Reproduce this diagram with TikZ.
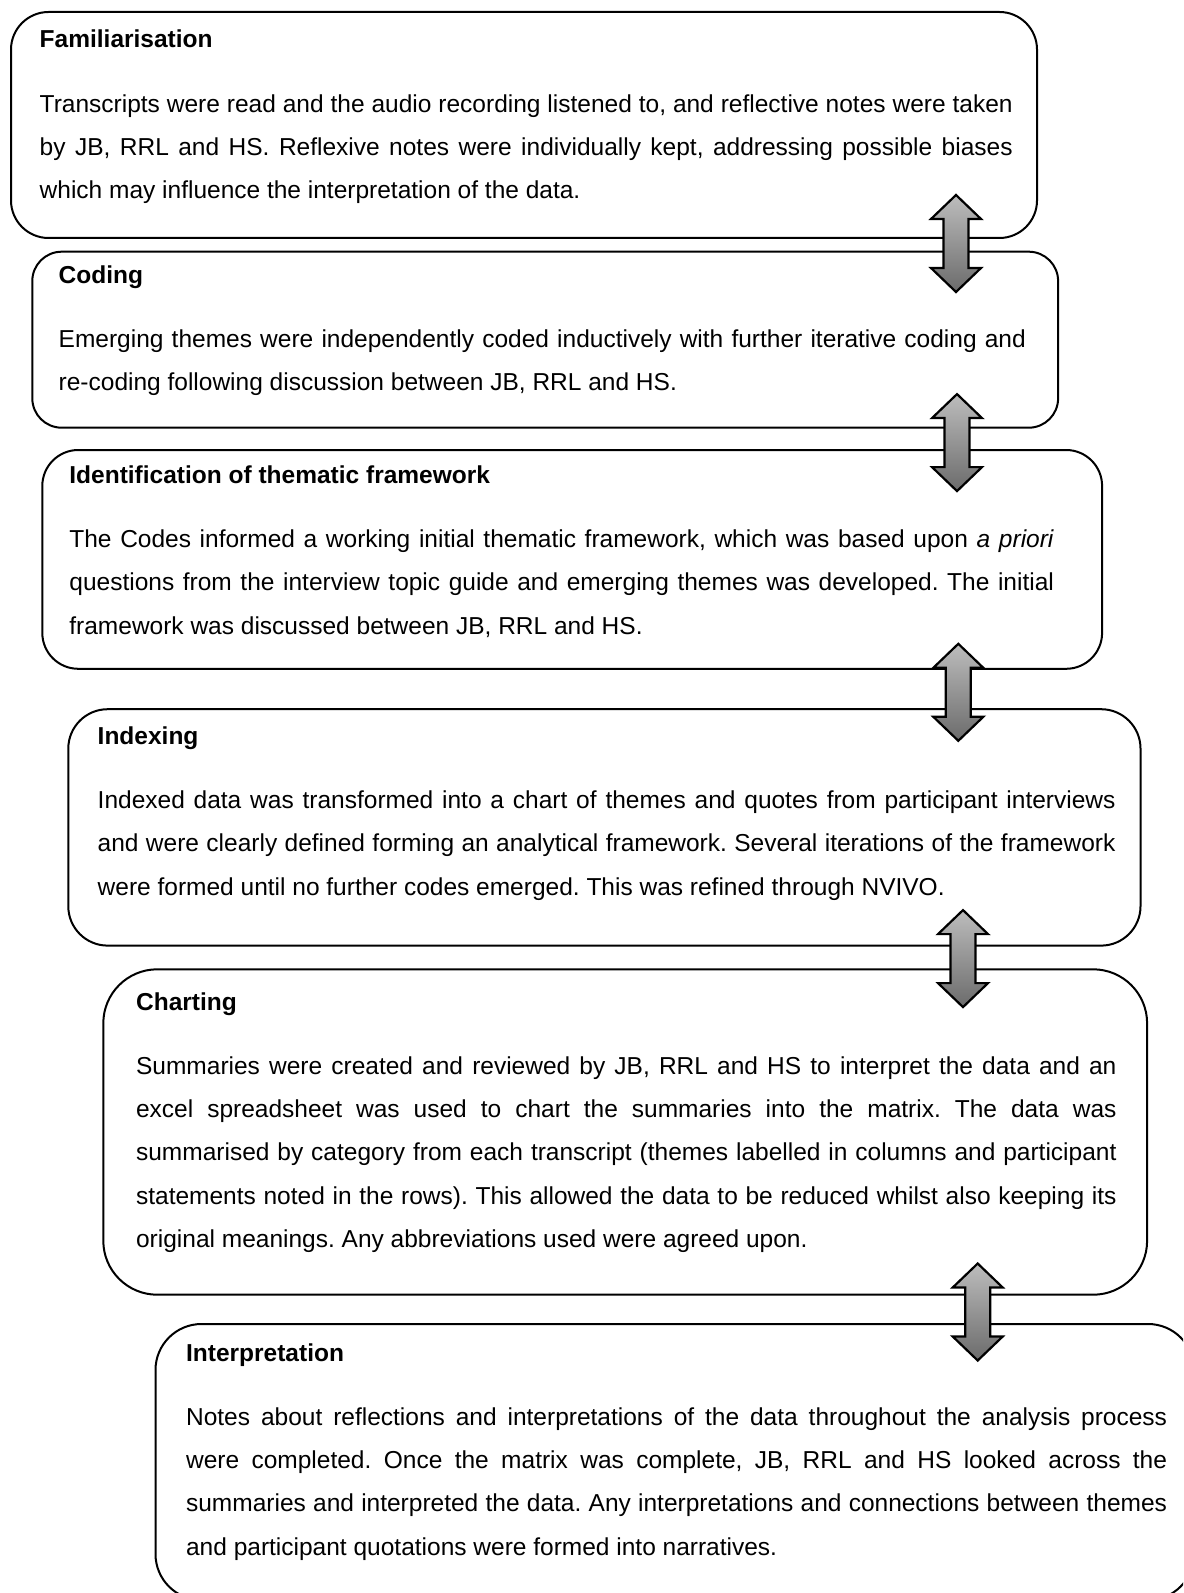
\documentclass[tikz,border=0pt]{standalone}
\usepackage{fontspec}
\setmainfont{Liberation Sans}
\usetikzlibrary{positioning}

\newcommand{\stagefont}{\fontsize{12.25}{21.6}\selectfont}
\frenchspacing

\tikzset{
    stage/.style={rectangle, draw, line width=1pt, anchor=north west, inner sep=0pt, outer sep=0pt},
    stagetitle/.style={anchor=base west, inner sep=0pt, font=\stagefont\bfseries},
    stagetext/.style={below=16.9pt of #1.base west, anchor=north west, inner sep=0pt, align=justify, font=\stagefont},
    updown/.pic={
        \draw[line width=1.1pt, top color=black!26, bottom color=black!58]
            (0,-48.5) -- (25,-24.5) -- (12.5,-24.5) -- (12.5,24.5) -- (25,24.5) -- (0,48.5)
            -- (-25,24.5) -- (-12.5,24.5) -- (-12.5,-24.5) -- (-25,-24.5) -- cycle;
    }
}

\begin{document}
\begin{tikzpicture}[x=0.5pt, y=-0.5pt]

        \useasboundingbox (0,0) rectangle (1183,1593);
        \clip (0,0) rectangle (1183,1593);

        % Boxes
        \node[stage, minimum width=513pt, minimum height=113pt, rounded corners=18.8pt](famBox) at (11,12){};
        \node[stage, minimum width=512.9pt, minimum height=88pt, rounded corners=14.7pt](codBox) at (32.3,251.7){};
        \node[stage, minimum width=529.9pt, minimum height=109.4pt, rounded corners=18pt](ideBox) at (42.3,450){};
        \node[stage, minimum width=536.1pt, minimum height=118.2pt, rounded corners=19.7pt](indBox) at (68.3,709.2){};
        \node[stage, minimum width=521.9pt, minimum height=162.7pt, rounded corners=27pt](chaBox) at (103.3,969.3){};
        \node[stage, minimum width=519.3pt, minimum height=138pt, rounded corners=23pt](intBox) at (155.5,1324){};

        % Titles
        \node[stagetitle](famTitle) at (39.3,47.7){Familiarisation};
        \node[stagetitle](codTitle) at (58.3,283.3){Coding};
        \node[stagetitle](ideTitle) at (69,483.3){Identification of thematic framework};
        \node[stagetitle](indTitle) at (97.3,744.3){Indexing};
        \node[stagetitle](chaTitle) at (135.7,1010){Charting};
        \node[stagetitle](intTitle) at (185.7,1361){Interpretation};

        % Texts
        \node[stagetext=famTitle, text width=486.5pt](famText){\strut Transcripts were read and the audio recording listened to, and reflective notes were taken\linebreak
            by JB, RRL and HS. Reflexive notes were individually kept, addressing possible biases\linebreak
            which may influence the interpretation of the data.};
        \node[stagetext=codTitle, text width=483.6pt](codText){\strut Emerging themes were independently coded inductively with further iterative coding and\linebreak
            re-coding following discussion between JB, RRL and HS.};
        \node[stagetext=ideTitle, text width=492.3pt](ideText){\strut The Codes informed a working initial thematic framework, which was based upon \textit{a priori}\linebreak
            questions from the interview topic guide and emerging themes was developed. The initial\linebreak
            framework was discussed between JB, RRL and HS.};
        \node[stagetext=indTitle, text width=508.9pt](indText){\strut Indexed data was transformed into a chart of themes and quotes from participant interviews\linebreak
            and were clearly defined forming an analytical framework. Several iterations of the framework\linebreak
            were formed until no further codes emerged. This was refined through NVIVO.};
        \node[stagetext=chaTitle, text width=490.2pt](chaText){\strut Summaries were created and reviewed by JB, RRL and HS to interpret the data and an\linebreak
            excel spreadsheet was used to chart the summaries into the matrix. The data was\linebreak
            summarised by category from each transcript (themes labelled in columns and participant\linebreak
            statements noted in the rows). This allowed the data to be reduced whilst also keeping its\linebreak
            original meanings. Any abbreviations used were agreed upon.};
        \node[stagetext=intTitle, text width=490.5pt](intText){\strut Notes about reflections and interpretations of the data throughout the analysis process\linebreak
            were completed. Once the matrix was complete, JB, RRL and HS looked across the\linebreak
            summaries and interpreted the data. Any interpretations and connections between themes\linebreak
            and participant quotations were formed into narratives.};

        % Arrows
        \pic at (956,243.5){updown};
        \pic at (957,442.6){updown};
        \pic at (958.3,692.3){updown};
        \pic at (963,958.6){updown};
        \pic at (977.7,1312){updown};

    \end{tikzpicture}
\end{document}
